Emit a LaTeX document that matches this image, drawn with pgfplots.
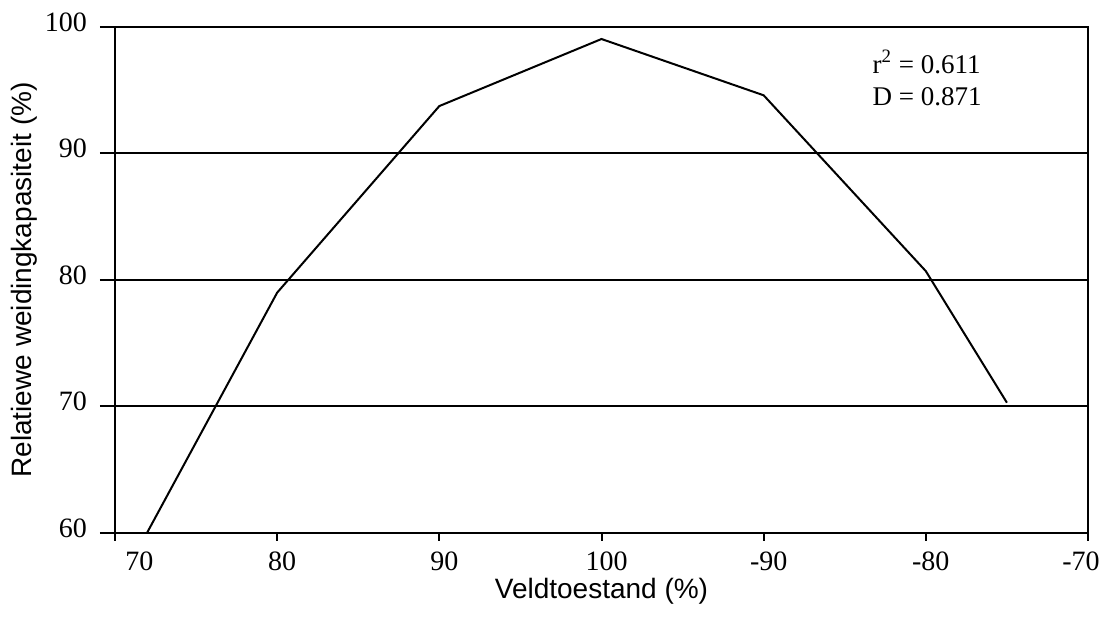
\documentclass[border=0pt]{standalone}
\usepackage{pgfplots}
\pgfplotsset{compat=1.18}
\usepackage{fontspec}
\setmainfont{Liberation Serif}
\newfontfamily\arial{Liberation Sans}
\begin{document}
\begin{tikzpicture}
\begin{axis}[
  at={(0pt,0pt)}, anchor=south west,
  scale only axis,
  width=486.5pt, height=253pt,
  xmin=0, xmax=6, ymin=60, ymax=100,
  xtick={0,1,2,3,4,5,6},
  xticklabels={\hspace*{19.5pt}70,80,90,100,-90,-80,\hspace*{-12pt}-70},
  ytick={60,70,80,90,100},
  tick pos=left,
  tick align=outside,
  major tick length=6pt,
  ymajorgrids,
  grid style={black, line width=1pt},
  axis line style={line width=1pt},
  tick style={black, line width=1pt},
  x tick style={/pgfplots/major tick length=4pt},
  y tick style={/pgfplots/major tick length=7.5pt},
  /pgf/number format/assume math mode=true,
  tick label style={font=\fontsize{14}{16}\selectfont},
  xticklabel style={xshift=2.5pt},
  yticklabel style={xshift=-4.5pt, yshift=2.5pt},
  xlabel={Veldtoestand (\%)},
  ylabel={Relatiewe weidingkapasiteit (\%)},
  label style={font=\arial\fontsize{14}{16}\selectfont},
  x label style={at={(axis description cs:0.5,0)}, anchor=center, yshift=-29pt},
  y label style={at={(axis description cs:0,0.5)}, anchor=center, yshift=45.5pt},
  clip=true,
]
\addplot[black, line width=1pt] coordinates {
  (0.197,60) (1,79.0) (2,93.75) (3,99.05) (4,94.6) (5,80.7) (5.5,70.3)
};
\node[anchor=north west, inner sep=0pt, align=left, font=\fontsize{13.5}{16}\selectfont] at (axis cs:4.67,98.2) {r\textsuperscript{2} = 0.611\\D = 0.871};
\end{axis}
\pgfresetboundingbox
\path (-57.5pt,-43pt) rectangle (495.5pt,266.5pt);
\end{tikzpicture}
\end{document}
